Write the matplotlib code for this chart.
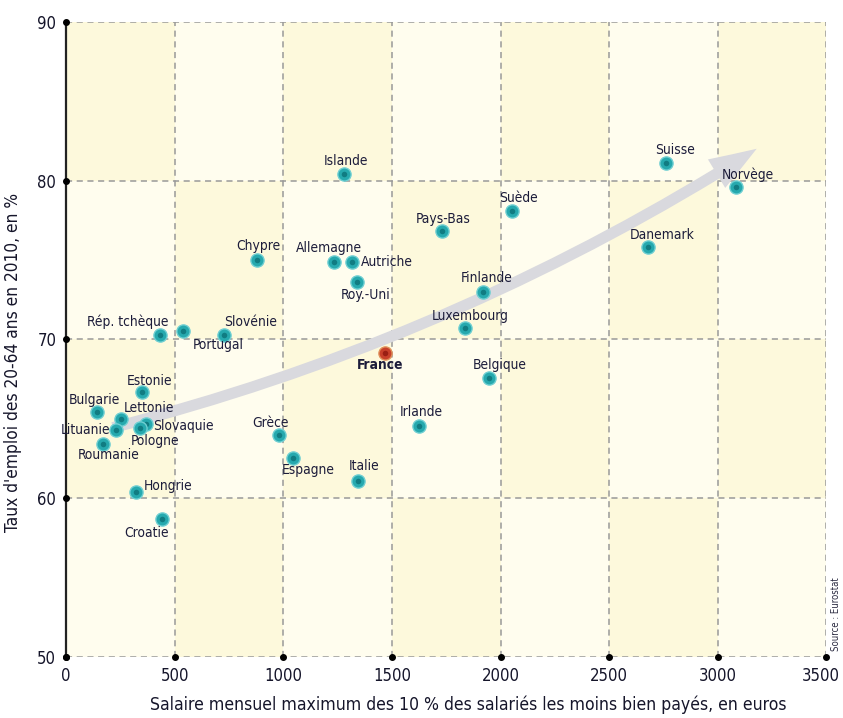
import numpy as np
import matplotlib.pyplot as plt
from matplotlib import font_manager as fm
from matplotlib.colors import ListedColormap
from matplotlib.patches import FancyArrowPatch
from matplotlib.transforms import offset_copy

# pick a narrow font if one is installed, else Liberation Sans
narrow = [f for f in fm.fontManager.ttflist
          if ('Narrow' in f.name or 'Condensed' in f.name or f.stretch in ('condensed', 'semi-condensed'))
          and f.style == 'normal']
if narrow:
    narrow.sort(key=lambda f: abs(int(f.weight) - 400) if str(f.weight).isdigit() else 0)
    FONT = narrow[0].name
    fm.fontManager.addfont(narrow[0].fname)
else:
    FONT = 'Liberation Sans'
plt.rcParams['font.family'] = [FONT, 'DejaVu Sans']
if narrow:
    plt.rcParams['font.stretch'] = narrow[0].stretch

# Data: salary of the lowest decile (euros) vs employment rate 20-64 (%)
countries = ['Suisse', 'Norvège', 'Danemark', 'Islande', 'Suède', 'Pays-Bas', 'Chypre',
             'Allemagne', 'Autriche', 'Roy.-Uni', 'Finlande', 'Luxembourg', 'Rép. tchèque',
             'Portugal', 'Slovénie', 'France', 'Belgique', 'Irlande', 'Estonie', 'Bulgarie',
             'Lettonie', 'Lituanie', 'Slovaquie', 'Pologne', 'Roumanie', 'Hongrie', 'Croatie',
             'Grèce', 'Espagne', 'Italie']
salary = [2763, 3085, 2680, 1280, 2054, 1731, 880,
          1234, 1317, 1340, 1920, 1837, 433,
          539, 728, 1469, 1948, 1626, 350, 143,
          253, 230, 368, 341, 170, 322, 442,
          981, 1045, 1345]
employment = [81.1, 79.6, 75.8, 80.4, 78.1, 76.8, 75.0,
              74.9, 74.9, 73.6, 73.0, 70.7, 70.3,
              70.5, 70.3, 69.15, 67.6, 64.55, 66.7, 65.4,
              65.0, 64.3, 64.7, 64.4, 63.4, 60.4, 58.7,
              64.0, 62.5, 61.1]

# label placement: (dx px, dy px, horizontal alignment)
label_pos = {
    'Suisse': (9, 13, 'center'), 'Norvège': (12, 12, 'center'), 'Danemark': (14, 12, 'center'),
    'Islande': (2, 13, 'center'), 'Suède': (6, 13, 'center'), 'Pays-Bas': (1, 12, 'center'),
    'Chypre': (1, 14, 'center'), 'Allemagne': (-5, 14, 'center'), 'Autriche': (9, 0, 'left'),
    'Roy.-Uni': (8, -13, 'center'), 'Finlande': (4, 14, 'center'), 'Luxembourg': (5, 12, 'center'),
    'Rép. tchèque': (8, 13, 'right'), 'Portugal': (10, -14, 'left'), 'Slovénie': (0, 13, 'left'),
    'France': (-5, -12, 'center'), 'Belgique': (11, 13, 'center'), 'Irlande': (2, 14, 'center'),
    'Estonie': (8, 11, 'center'), 'Bulgarie': (-3, 12, 'center'), 'Lettonie': (3, 11, 'left'),
    'Lituanie': (-6, 0, 'right'), 'Slovaquie': (7, -2, 'left'), 'Pologne': (-9, -13, 'left'),
    'Roumanie': (6, -11, 'center'), 'Hongrie': (8, 6, 'left'), 'Croatie': (-15, -14, 'center'),
    'Grèce': (-9, 12, 'center'), 'Espagne': (15, -12, 'center'), 'Italie': (6, 15, 'center'),
}

xlabel = 'Salaire mensuel maximum des 10 % des salariés les moins bien payés, en euros'
ylabel = "Taux d'emploi des 20-64 ans en 2010, en %"

fig = plt.figure(figsize=(8.43, 7.18), dpi=100)
renderer = fig.canvas.get_renderer()


def fit_size(s, target_px, base=12):
    t = fig.text(0, 0, s, fontsize=base)
    w = t.get_window_extent(renderer).width
    t.remove()
    return base * target_px / w


label_fs = min(fit_size('Luxembourg', 77), 12.5)
tick_fs = min(fit_size('3500', 38), 14)
xlabel_fs = fit_size(xlabel, 636)
ylabel_fs = fit_size(ylabel, 340)
source_fs = fit_size('Source : Eurostat', 74)

ax = fig.add_axes([0.0783, 0.085, 0.902, 0.8846])

# checkerboard background
xe = np.arange(0, 3501, 500)
ye = np.arange(50, 91, 10)
checker = (np.add.outer(np.arange(len(ye) - 1), np.arange(len(xe) - 1)) % 2)
ax.pcolormesh(xe, ye, checker, cmap=ListedColormap(['#fffdee', '#fdf9dc']), zorder=0)

ax.set_xlim(0, 3500)
ax.set_ylim(50, 90)
for x in xe[1:]:
    ax.axvline(x, color='#999999', ls=(0, (4, 3)), lw=1.1, zorder=1)
for y in ye:
    ax.axhline(y, color='#999999', ls=(0, (4, 3)), lw=1.1, zorder=1)
for s in ['top', 'right', 'bottom']:
    ax.spines[s].set_visible(False)
ax.spines['left'].set_color('#222222')
ax.spines['left'].set_linewidth(1.6)

# tick dots
ax.plot(np.zeros(len(ye)), ye, 'o', color='black', ms=4, clip_on=False, zorder=5)
ax.plot(xe, np.full(len(xe), 50), 'o', color='black', ms=4, clip_on=False, zorder=5)

ax.set_xticks(xe)
ax.set_yticks(ye)
ax.tick_params(length=0, labelsize=tick_fs, colors='#15152a', pad=7)
last = ax.get_xticklabels()[-1]
last.set_transform(offset_copy(last.get_transform(), fig=fig, x=-6, units='dots'))

# trend arrow
arrow = FancyArrowPatch((203, 64.4), (3190, 82.1), connectionstyle='arc3,rad=0.08',
                        arrowstyle='simple,head_width=24,head_length=34,tail_width=8',
                        mutation_scale=1, color='#d9d9de', lw=0, zorder=2)
ax.add_patch(arrow)

for name, x, y in zip(countries, salary, employment):
    if name == 'France':
        face, edge, core = '#c8402a', '#e0905a', '#9a1f14'
    else:
        face, edge, core = '#26a9ae', '#6fcfd2', '#117c82'
    ax.scatter(x, y, s=90, color=face, edgecolor=edge, linewidth=1, zorder=4)
    ax.scatter(x, y, s=16, color=core, linewidth=0, zorder=4)
    dx, dy, ha = label_pos[name]
    ax.annotate(name, (x, y), xytext=(dx, dy), textcoords='offset pixels',
                ha=ha, va='center', fontsize=label_fs, color='#1c1c3a',
                fontweight='bold' if name == 'France' else 'normal', zorder=6)

ax.set_xlabel(xlabel, fontsize=xlabel_fs, color='#15152a')
ax.xaxis.set_label_coords(0.529, -0.061)
ax.set_ylabel(ylabel, fontsize=ylabel_fs, color='#15152a')
ax.yaxis.set_label_coords(-0.058, 0.463)
fig.text(0.992, 0.145, 'Source : Eurostat', rotation=90, fontsize=source_fs, color='#2a2a40',
         ha='center', va='center')

plt.savefig('out.png', dpi=100)
